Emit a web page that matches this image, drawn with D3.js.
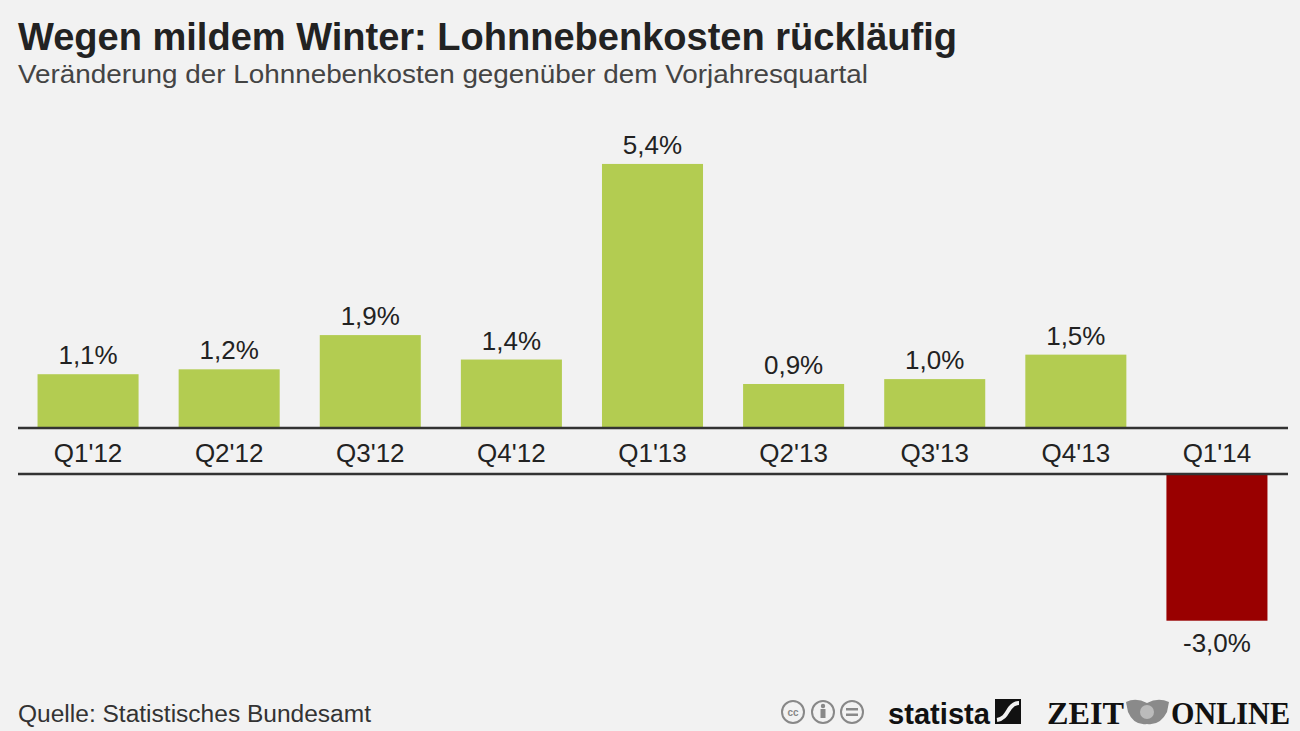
<!DOCTYPE html>
<html>
<head>
<meta charset="utf-8">
<script src="https://cdn.jsdelivr.net/npm/d3@7"></script>
<style>
  body { margin: 0; background: #f2f2f2; }
  svg { display: block; font-family: "Liberation Sans", Arial, sans-serif; }
</style>
</head>
<body>
<div id="chart"></div>
<script>
// Data
const quarters = ["Q1'12", "Q2'12", "Q3'12", "Q4'12", "Q1'13", "Q2'13", "Q3'13", "Q4'13", "Q1'14"];
const changes = [1.1, 1.2, 1.9, 1.4, 5.4, 0.9, 1.0, 1.5, -3.0];
const valueLabels = ["1,1%", "1,2%", "1,9%", "1,4%", "5,4%", "0,9%", "1,0%", "1,5%", "-3,0%"];

const W = 1300, H = 731;
const svg = d3.select("#chart").append("svg")
    .attr("width", W)
    .attr("height", H);

svg.append("rect").attr("width", W).attr("height", H).attr("fill", "#f2f2f2");

// Title and subtitle
svg.append("text")
    .attr("x", 18).attr("y", 50)
    .style("font-size", "38px").style("font-weight", "bold")
    .attr("fill", "#222")
    .attr("textLength", 939).attr("lengthAdjust", "spacingAndGlyphs")
    .text("Wegen mildem Winter: Lohnnebenkosten rückläufig");

svg.append("text")
    .attr("x", 18).attr("y", 83)
    .style("font-size", "25px")
    .attr("fill", "#444")
    .attr("textLength", 850).attr("lengthAdjust", "spacingAndGlyphs")
    .text("Veränderung der Lohnnebenkosten gegenüber dem Vorjahresquartal");

// Scales
const x = d3.scaleBand()
    .domain(quarters)
    .range([17.5, 1287.5])
    .paddingInner(0.284)
    .paddingOuter(0.142);

const zeroTop = 428;   // baseline for positive bars
const zeroBottom = 474; // baseline for negative bars
const pxPerPct = 48.9;

const y = d3.scaleLinear().domain([0, 5.4]).range([zeroTop, zeroTop - 5.4 * pxPerPct]);
const yNeg = d3.scaleLinear().domain([0, -3]).range([zeroBottom, zeroBottom + 3 * pxPerPct]);

const data = quarters.map((q, i) => ({ q: q, v: changes[i], label: valueLabels[i] }));

// Bars
svg.selectAll(".bar")
    .data(data)
    .enter().append("rect")
    .attr("class", "bar")
    .attr("x", d => x(d.q))
    .attr("width", x.bandwidth())
    .attr("y", d => d.v >= 0 ? y(d.v) : zeroBottom)
    .attr("height", d => d.v >= 0 ? zeroTop - y(d.v) : yNeg(d.v) - zeroBottom)
    .attr("fill", d => d.v >= 0 ? "#b3cc51" : "#990000");

// Baselines
[zeroTop, zeroBottom].forEach(yy => {
    svg.append("line")
        .attr("x1", 18).attr("x2", 1288)
        .attr("y1", yy).attr("y2", yy)
        .attr("stroke", "#333")
        .attr("stroke-width", 2.5);
});

// Value labels
svg.selectAll(".val")
    .data(data)
    .enter().append("text")
    .attr("class", "val")
    .attr("x", d => x(d.q) + x.bandwidth() / 2)
    .attr("y", d => d.v >= 0 ? y(d.v) - 10 : yNeg(d.v) + 31)
    .attr("text-anchor", "middle")
    .style("font-size", "26px")
    .attr("fill", "#222")
    .text(d => d.label);

// Category labels
svg.selectAll(".cat")
    .data(data)
    .enter().append("text")
    .attr("class", "cat")
    .attr("x", d => x(d.q) + x.bandwidth() / 2)
    .attr("y", 462)
    .attr("text-anchor", "middle")
    .style("font-size", "26px")
    .attr("fill", "#222")
    .text(d => d.q);

// Source
svg.append("text")
    .attr("x", 18).attr("y", 722)
    .style("font-size", "23px")
    .attr("fill", "#333")
    .attr("textLength", 353).attr("lengthAdjust", "spacingAndGlyphs")
    .text("Quelle: Statistisches Bundesamt");

// Footer logos
const cc = svg.append("g").attr("fill", "none").attr("stroke", "#888").attr("stroke-width", 2);
[793, 823, 852].forEach(cx => cc.append("circle").attr("cx", cx).attr("cy", 712).attr("r", 11));
svg.append("text").attr("x", 793).attr("y", 716).attr("text-anchor", "middle")
    .style("font-size", "10px").style("font-weight", "bold").attr("fill", "#888").text("cc");
svg.append("circle").attr("cx", 823).attr("cy", 706).attr("r", 2.2).attr("fill", "#888");
svg.append("rect").attr("x", 820.5).attr("y", 709).attr("width", 5).attr("height", 9).attr("fill", "#888");
svg.append("rect").attr("x", 846).attr("y", 708).attr("width", 12).attr("height", 2.5).attr("fill", "#888");
svg.append("rect").attr("x", 846).attr("y", 713.5).attr("width", 12).attr("height", 2.5).attr("fill", "#888");

svg.append("text")
    .attr("x", 888).attr("y", 724)
    .style("font-size", "30px").style("font-weight", "bold")
    .attr("fill", "#111")
    .attr("textLength", 102).attr("lengthAdjust", "spacingAndGlyphs")
    .text("statista");
svg.append("rect").attr("x", 995).attr("y", 699).attr("width", 26).attr("height", 25).attr("fill", "#111");
svg.append("path")
    .attr("d", "M997,720 C1005,719 1007,712 1010,708 C1013,704 1016,703 1019,703")
    .attr("fill", "none").attr("stroke", "#f2f2f2").attr("stroke-width", 4);

svg.append("text")
    .attr("x", 1047).attr("y", 724)
    .style("font-size", "32px").style("font-weight", "bold")
    .style("font-family", "'Liberation Serif', 'DejaVu Serif', serif")
    .attr("fill", "#111")
    .attr("textLength", 77).attr("lengthAdjust", "spacingAndGlyphs")
    .text("ZEIT");
// eagle emblem (simplified)
const eagle = svg.append("g").attr("fill", "#8a8a8a");
eagle.append("path").attr("d", "M1126,702 Q1136,697 1147,703 Q1158,697 1169,702 L1167,712 Q1160,726 1147,724 Q1134,726 1128,712 Z");
eagle.append("circle").attr("cx", 1147).attr("cy", 712).attr("r", 7).attr("fill", "#bbb");
svg.append("text")
    .attr("x", 1171).attr("y", 724)
    .style("font-size", "32px").style("font-weight", "bold")
    .style("font-family", "'Liberation Serif', 'DejaVu Serif', serif")
    .attr("fill", "#111")
    .attr("textLength", 119).attr("lengthAdjust", "spacingAndGlyphs")
    .text("ONLINE");
</script>
</body>
</html>
